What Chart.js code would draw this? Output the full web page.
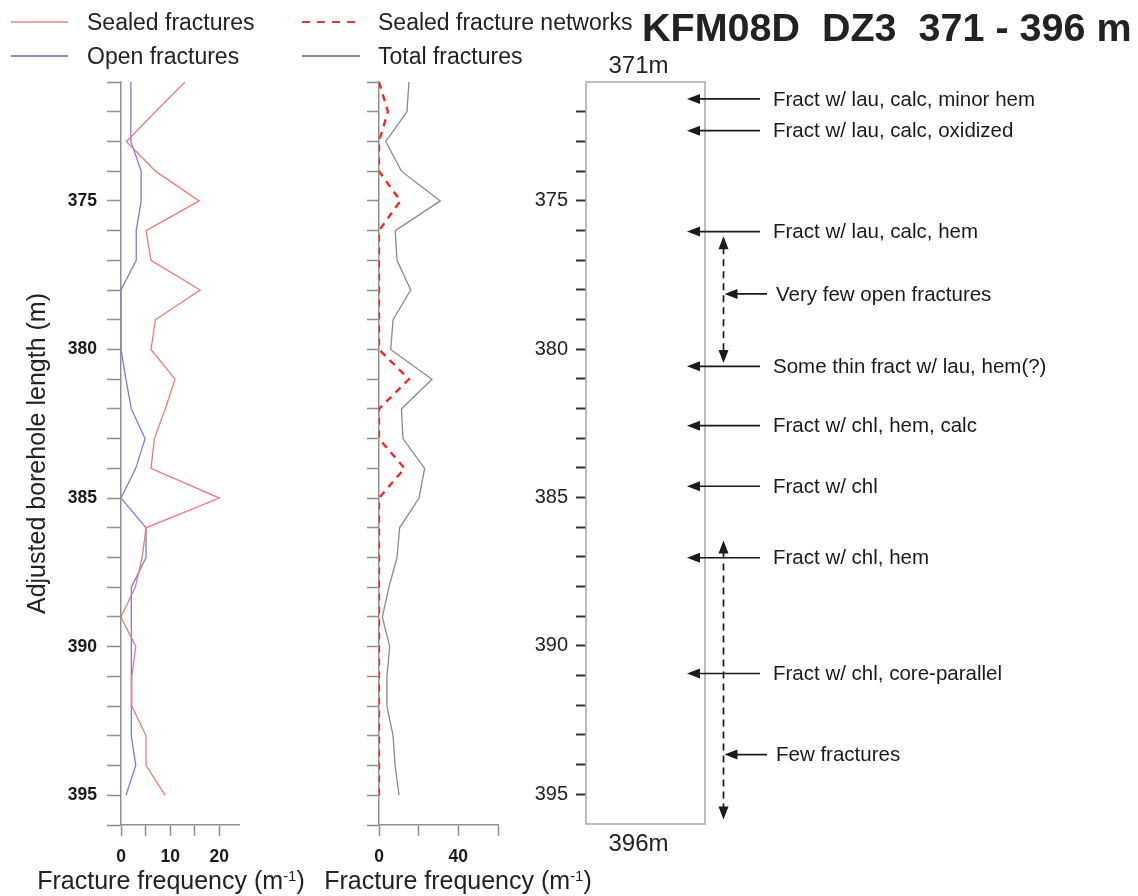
<!DOCTYPE html>
<html><head><meta charset="utf-8">
<script src="https://cdn.jsdelivr.net/npm/chart.js@4.4.0/dist/chart.umd.min.js"></script>
<style>
html,body{margin:0;padding:0;background:#fff;}
body{width:1138px;height:896px;position:relative;overflow:hidden;font-family:"Liberation Sans",Arial,Helvetica,sans-serif;color:#222;}
canvas{position:absolute;left:0;top:0;}
.t{position:absolute;white-space:pre;line-height:1;}
.ln{position:absolute;}
sup{font-size:0.6em;vertical-align:0.55em;line-height:0;}
</style></head><body>
<canvas id="c1" width="1138" height="896"></canvas>
<canvas id="c2" width="1138" height="896"></canvas>
<canvas id="c3" width="1138" height="896"></canvas>

<div class="ln" style="left:11px;top:21px;width:57px;height:2px;background:#eba5a5;"></div>
<div class="t" style="left:87px;top:10.5px;font-size:23px;">Sealed fractures</div>
<div class="ln" style="left:11px;top:55px;width:57px;height:2px;background:#8e8eb6;"></div>
<div class="t" style="left:87px;top:44.5px;font-size:23px;">Open fractures</div>
<div class="ln" style="left:302px;top:21px;width:58px;height:2px;background:repeating-linear-gradient(90deg,#e03a3a 0 8px,transparent 8px 15px);"></div>
<div class="t" style="left:378px;top:10.5px;font-size:23px;">Sealed fracture networks</div>
<div class="ln" style="left:302px;top:55px;width:58px;height:2px;background:#8c8c8c;"></div>
<div class="t" style="left:378px;top:44.5px;font-size:23px;">Total fractures</div>

<div class="t" style="left:642px;top:8px;font-size:39.5px;font-weight:bold;">KFM08D  DZ3  371 - 396 m</div>

<div class="t" style="left:171px;top:868px;font-size:25px;transform:translateX(-50%);">Fracture frequency (m<sup>-1</sup>)</div>
<div class="t" style="left:458px;top:868px;font-size:25px;transform:translateX(-50%);">Fracture frequency (m<sup>-1</sup>)</div>

<script>
// ---- data ----
const depths = [371,372,373,374,375,376,377,378,379,380,381,382,383,384,385,386,387,388,389,390,391,392,393,394,395];
const sealedFractures = [13.0,7.0,1.1,7.0,15.9,5.1,6.1,16.1,7.0,6.1,11.0,9.0,6.8,6.1,20.0,5.1,4.3,2.9,0,3.0,2.2,2.2,5.1,5.1,9.0];
const openFractures   = [2.0,2.0,2.0,4.1,4.1,3.1,3.1,0,0,0,1.0,2.1,4.9,3.0,0,5.1,5.1,2.1,2.1,2.1,2.1,2.1,2.1,3.0,1.0];
const sealedNetworks  = [0,4.5,0,0,10.8,0,0,0,0,0,15.1,0,0,12.9,0,0,0,0,0,0,0,0,0,0,0];
const totalFractures  = [15.1,14.1,3.4,11.3,30.9,8.2,9.1,16.0,7.1,5.9,26.7,11.3,12.1,23.0,20.2,10.4,9.1,5.0,1.7,5.4,4.0,4.0,7.1,8.1,10.1];

const depthTickLabels = [375,380,385,390,395];
const leftXTickLabels = [0,10,20];
const midXTickLabels  = [0,40];

const noteDepths = [371.57,372.64,376.04,380.58,382.58,384.62,387.03,390.93];
const noteLabels = ['Fract w/ lau, calc, minor hem','Fract w/ lau, calc, oxidized','Fract w/ lau, calc, hem',
  'Some thin fract w/ lau, hem(?)','Fract w/ chl, hem, calc','Fract w/ chl','Fract w/ chl, hem','Fract w/ chl, core-parallel'];
const rangeTops     = [376.2, 386.45];
const rangeBottoms  = [380.47, 395.85];
const rangePointers = [378.14, 393.66];
const rangeLabels   = ['Very few open fractures','Few fractures'];
const boreTopLabel = '371m', boreBottomLabel = '396m';

// ---- charts ----
Chart.defaults.font.family = '"Liberation Sans", Arial, Helvetica, sans-serif';
Chart.defaults.color = '#222';

function pts(vals){ return depths.map((d,i)=>({x: vals[i], y: d})); }

function tickGrid(len, color, w){
  return {display:true, drawOnChartArea:false, drawTicks:true, tickLength:len, tickColor:color, tickWidth:w};
}

function baseOptions(padRight){
  return {
    indexAxis:'y', responsive:false, animation:false, devicePixelRatio:1,
    layout:{padding:{left:0, top:82, right:padRight, bottom:0}},
    plugins:{legend:{display:false}, tooltip:{enabled:false}},
    elements:{point:{radius:0}, line:{tension:0}}
  };
}

// Left panel
const o1 = baseOptions(899);
o1.scales = {
  x:{type:'linear', position:'bottom', min:0, max:24, afterFit:s=>{s.height=71;},
     ticks:{stepSize:5, includeBounds:false, autoSkip:false, maxRotation:0, padding:11,
            font:{size:17.5, weight:'bold'}, color:'#1a1a1a',
            callback:v=>leftXTickLabels.includes(v)?String(v):''},
     grid:tickGrid(11,'#8f8f8f',1.5), border:{display:true,color:'#8f8f8f',width:1.5}},
  y:{type:'linear', position:'left', reverse:true, min:371, max:396, afterFit:s=>{s.width=121;},
     ticks:{stepSize:1, autoSkip:false, padding:10, font:{size:17.5, weight:'bold'}, color:'#1a1a1a',
            callback:v=>depthTickLabels.includes(v)?String(v):''},
     grid:tickGrid(14,'#8f8f8f',1.5), border:{display:true,color:'#8f8f8f',width:1.5},
     title:{display:true, text:'Adjusted borehole length (m)', font:{size:25}, color:'#222', padding:{top:23,bottom:0}}}
};
new Chart(document.getElementById('c1'), {
  type:'line',
  data:{datasets:[
    {label:'Sealed fractures', data:pts(sealedFractures), borderColor:'#f07a7a', borderWidth:1.3, pointRadius:0},
    {label:'Open fractures', data:pts(openFractures), borderColor:'#7b7be6', borderWidth:1.3, pointRadius:0}
  ]},
  options:o1
});

// Middle panel
const o2 = baseOptions(640);
o2.scales = {
  x:{type:'linear', position:'bottom', min:0, max:60, afterFit:s=>{s.height=71;},
     ticks:{stepSize:20, autoSkip:false, maxRotation:0, padding:11,
            font:{size:17.5, weight:'bold'}, color:'#1a1a1a',
            callback:v=>midXTickLabels.includes(v)?String(v):''},
     grid:tickGrid(11,'#8f8f8f',1.5), border:{display:true,color:'#8f8f8f',width:1.5}},
  y:{type:'linear', position:'left', reverse:true, min:371, max:396, afterFit:s=>{s.width=379;},
     ticks:{stepSize:1, autoSkip:false, padding:0, callback:()=>''},
     grid:tickGrid(12,'#8f8f8f',1.5), border:{display:true,color:'#8f8f8f',width:1.5}}
};
new Chart(document.getElementById('c2'), {
  type:'line',
  data:{datasets:[
    {label:'Total fractures', data:pts(totalFractures), borderColor:'#8a8a8a', borderWidth:1.3, pointRadius:0},
    {label:'Sealed fracture networks', data:pts(sealedNetworks), borderColor:'#ff1e1e', borderWidth:2.3, borderDash:[7,6], pointRadius:0}
  ]},
  options:o2
});

// Right panel (borehole column with notes)
function arrowHead(ctx, tx, ty, dx, dy){
  const L = 13, W = 5;
  const px = -dy, py = dx;
  ctx.beginPath();
  ctx.moveTo(tx, ty);
  ctx.lineTo(tx - dx*L + px*W, ty - dy*L + py*W);
  ctx.lineTo(tx - dx*L - px*W, ty - dy*L - py*W);
  ctx.closePath();
  ctx.fill();
}
const notesPlugin = {
  id:'notes',
  afterDraw(chart){
    const {ctx, chartArea:a, scales:{y}} = chart;
    ctx.save();
    ctx.strokeStyle = '#a8a8a8'; ctx.lineWidth = 1.5;
    ctx.strokeRect(a.left, a.top, a.right-a.left, a.bottom-a.top);
    ctx.fillStyle = '#222';
    ctx.font = '24px "Liberation Sans", Arial, sans-serif';
    ctx.textAlign = 'center'; ctx.textBaseline = 'middle';
    const cx = (a.left+a.right)/2 - 7;
    ctx.fillText(boreTopLabel, cx, a.top - 16);
    ctx.fillText(boreBottomLabel, cx, a.bottom + 20);

    ctx.strokeStyle = '#1a1a1a'; ctx.fillStyle = '#1a1a1a'; ctx.lineWidth = 1.7;
    ctx.font = '20.5px "Liberation Sans", Arial, sans-serif';
    ctx.textAlign = 'left';
    noteDepths.forEach((d,i)=>{
      const yy = y.getPixelForValue(d);
      const tip = a.right - 18, tail = a.right + 55;
      ctx.beginPath(); ctx.moveTo(tail, yy); ctx.lineTo(tip + 10, yy); ctx.stroke();
      arrowHead(ctx, tip, yy, -1, 0);
      ctx.fillText(noteLabels[i], a.right + 68, yy + 1);
    });
    rangeTops.forEach((t,i)=>{
      const x = a.right + 18.5;
      const y0 = y.getPixelForValue(t), y1 = y.getPixelForValue(rangeBottoms[i]);
      ctx.save(); ctx.setLineDash([7,5]);
      ctx.beginPath(); ctx.moveTo(x, y0 + 11); ctx.lineTo(x, y1 - 11); ctx.stroke();
      ctx.restore();
      arrowHead(ctx, x, y0, 0, -1);
      arrowHead(ctx, x, y1, 0, 1);
      const yp = y.getPixelForValue(rangePointers[i]);
      ctx.beginPath(); ctx.moveTo(a.right + 62, yp); ctx.lineTo(x + 10, yp); ctx.stroke();
      arrowHead(ctx, x + 1, yp, -1, 0);
      ctx.fillText(rangeLabels[i], a.right + 71, yp + 1);
    });
    ctx.restore();
  }
};
const o3 = baseOptions(433);
o3.layout.padding.bottom = 72;
o3.scales = {
  x:{type:'linear', display:false, min:0, max:1},
  y:{type:'linear', position:'left', reverse:true, min:371, max:396, afterFit:s=>{s.width=586;},
     ticks:{stepSize:1, autoSkip:false, padding:8, font:{size:20}, color:'#222',
            callback:v=>depthTickLabels.includes(v)?String(v):''},
     grid:{display:true, drawOnChartArea:false, drawTicks:true, tickLength:10, tickWidth:2,
           tickColor:c=>(c.tick && (c.tick.value===371 || c.tick.value===396))?'rgba(0,0,0,0)':'#333'},
     border:{display:false}}
};
new Chart(document.getElementById('c3'), {
  type:'line',
  data:{datasets:[]},
  options:o3,
  plugins:[notesPlugin]
});
</script>
</body></html>
